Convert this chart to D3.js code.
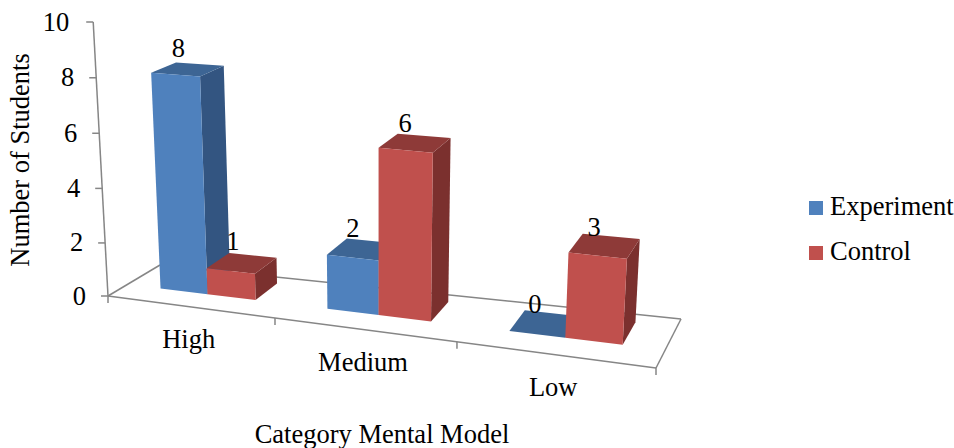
<!DOCTYPE html>
<html><head><meta charset="utf-8">
<style>html,body{margin:0;padding:0;background:#fff}svg{display:block}text{font-family:"Liberation Serif","Times New Roman",serif;fill:#000}</style>
<script src="https://cdn.jsdelivr.net/npm/d3@7/dist/d3.min.js"></script>
</head><body><svg id="c" width="954" height="448"></svg>
<script>
const categories = ["High","Medium","Low"];
const seriesNames = ["Experiment","Control"];
const experiment = [8,2,0];
const control = [1,6,3];
const yTicks = [0,2,4,6,8,10];
const colors = {Experiment:{front:"#4F81BD",side:"#335581",top:"#3D6594"},Control:{front:"#C0504D",side:"#7B302E",top:"#8E3A38"}};
const values = {Experiment:experiment,Control:control};

// projection of chart space (u along categories, d into depth, v value) to the page
const floor = {f0:[108,296],f1:[656,368],b0:[160,265],b1:[681,319]};
const persp = -0.1234;
const tau = u => u*(1+persp)/(1+persp*u);
const mix = (a,b,t)=>[a[0]+(b[0]-a[0])*t,a[1]+(b[1]-a[1])*t];
const vScale = d3.scalePow().exponent(1.02).domain([0,10]).range([0,10]);
function project(u,d,v){
  const t=tau(u);
  const p=mix(mix(floor.f0,floor.f1,t),mix(floor.b0,floor.b1,t),d);
  const unit=27.4+(p[1]-296)*0.04;
  const h=vScale(v)*unit;
  return [p[0]+(p[0]-378)*0.0002*h,p[1]-h];
}
const cat = d3.scaleBand().domain(categories).range([0,1]).paddingInner(0.42).paddingOuter(0.21);
const ser = d3.scaleBand().domain(seriesNames).range([0,cat.bandwidth()]);
const D0=0.37,D1=0.84;

const svg=d3.select("#c");
const g=svg.append("g");
const line=d3.line();
const axisColor="#868686";
const edge=(a,b)=>g.append("path").attr("d",line([a,b])).attr("fill","none").attr("stroke",axisColor).attr("stroke-width",1.5);

// floor outline
edge(project(0,0,0),project(0,1,0));
edge(project(0,1,0),project(1,1,0));
edge(project(1,1,0),project(1,0,0));
edge(project(0,0,0),project(1,0,0));
// value axis
edge(project(0,0,0),project(0,0,10));
yTicks.forEach(t=>{
  const p=project(0,0,t);
  edge([p[0]-7,p[1]],p);
  g.append("text").attr("x",p[0]-(t===10?24:22)).attr("y",p[1]+8.5).attr("text-anchor","end").attr("font-size",26.5).text(t);
});
// category ticks and labels
[0,1,2,3].forEach(i=>{
  const p=project(i/3,0,0);
  edge(p,[p[0],p[1]+7]);
});
categories.forEach((c,i)=>{
  const p=project((i+0.5)/3,0,0);
  g.append("text").attr("x",p[0]-1).attr("y",p[1]+41).attr("text-anchor","middle").attr("font-size",26.5).text(c);
});

// bars
const bars=[];
categories.forEach((c,i)=>seriesNames.forEach(s=>bars.push({c,s,v:values[s][i]})));
const poly=pts=>"M"+pts.map(p=>p.join(",")).join("L")+"Z";
const bar=g.selectAll("g.bar").data(bars).join("g").attr("class","bar");
bar.each(function(b){
  const u0=cat(b.c)+ser(b.s),u1=u0+ser.bandwidth();
  const sel=d3.select(this);
  const col=colors[b.s];
  if(b.v>0) sel.append("path").attr("d",poly([project(u1,D0,0),project(u1,D1,0),project(u1,D1,b.v),project(u1,D0,b.v)])).attr("fill",col.side);
  sel.append("path").attr("d",poly([project(u0,D0,b.v),project(u1,D0,b.v),project(u1,D1,b.v),project(u0,D1,b.v)])).attr("fill",col.top);
  if(b.v>0) sel.append("path").attr("d",poly([project(u0,D0,0),project(u1,D0,0),project(u1,D0,b.v),project(u0,D0,b.v)])).attr("fill",col.front);
});
// data labels
bars.forEach(b=>{
  const um=cat(b.c)+ser(b.s)+ser.bandwidth()/2;
  const p=project(um,D0,b.v);
  g.append("text").attr("x",p[0]+(378-p[0])*0.015).attr("y",p[1]-21+b.v*0.4).attr("text-anchor","middle").attr("font-size",26.5).text(b.v);
});

// titles
g.append("text").attr("transform","translate(29,160) rotate(-90)").attr("text-anchor","middle").attr("font-size",26.5).text("Number of Students");
g.append("text").attr("x",382).attr("y",443).attr("text-anchor","middle").attr("font-size",26.5).text("Category Mental Model");

// legend
const leg=d3.scalePoint().domain(seriesNames).range([208,253]);
seriesNames.forEach(s=>{
  g.append("rect").attr("x",809).attr("y",leg(s)-7).attr("width",14).attr("height",14).attr("fill",colors[s].front);
  g.append("text").attr("x",830).attr("y",leg(s)+7).attr("font-size",26.5).text(s);
});
</script></body></html>
